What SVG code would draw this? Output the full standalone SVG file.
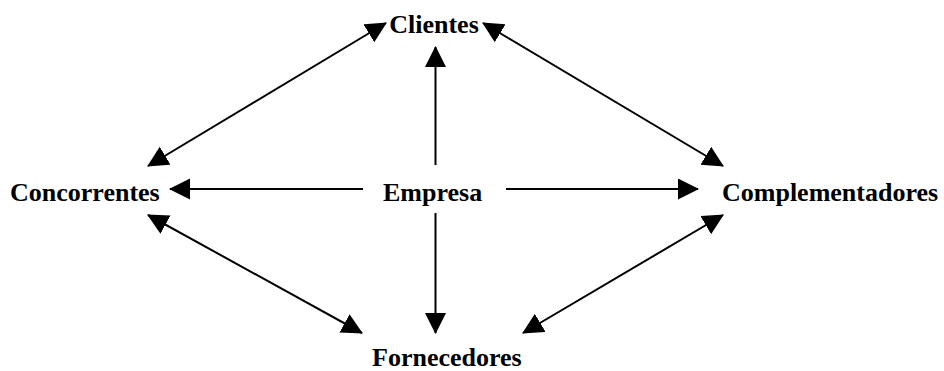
<svg xmlns="http://www.w3.org/2000/svg" width="944" height="371" viewBox="0 0 944 371">
  <style>
    .lbl { font-family: "Liberation Serif", "Times New Roman", serif; font-weight: bold; font-size: 26px; fill: #000; }
    .cn { stroke: #000; stroke-width: 2; fill: none; marker-end: url(#ah); }
    .both { marker-start: url(#ah); }
  </style>
  <defs>
    <marker id="ah" markerUnits="userSpaceOnUse" markerWidth="22" markerHeight="22" refX="20" refY="10.5" orient="auto-start-reverse" viewBox="0 0 22 22">
      <path d="M0,0 L21,10.5 L0,21 z" fill="#000"/>
    </marker>
  </defs>

  <g id="connectors">
    <!-- from the firm outward -->
    <line class="cn" x1="435.5" y1="165" x2="435.5" y2="47"/>
    <line class="cn" x1="435.5" y1="213" x2="435.5" y2="333"/>
    <line class="cn" x1="363" y1="189" x2="170" y2="189"/>
    <line class="cn" x1="506" y1="189" x2="698" y2="189"/>
    <!-- two-way links around the value net -->
    <line class="cn both" x1="148" y1="166" x2="386" y2="23"/>
    <line class="cn both" x1="483" y1="23" x2="723" y2="166"/>
    <line class="cn both" x1="148" y1="215" x2="362" y2="333"/>
    <line class="cn both" x1="723" y1="215" x2="523" y2="333"/>
  </g>

  <g id="clientes"><text class="lbl" x="434" y="33" text-anchor="middle">Clientes</text></g>
  <g id="concorrentes"><text class="lbl" x="10" y="201">Concorrentes</text></g>
  <g id="empresa"><text class="lbl" x="383" y="201">Empresa</text></g>
  <g id="complementadores"><text class="lbl" x="722" y="201">Complementadores</text></g>
  <g id="fornecedores"><text class="lbl" x="372" y="366">Fornecedores</text></g>
</svg>
